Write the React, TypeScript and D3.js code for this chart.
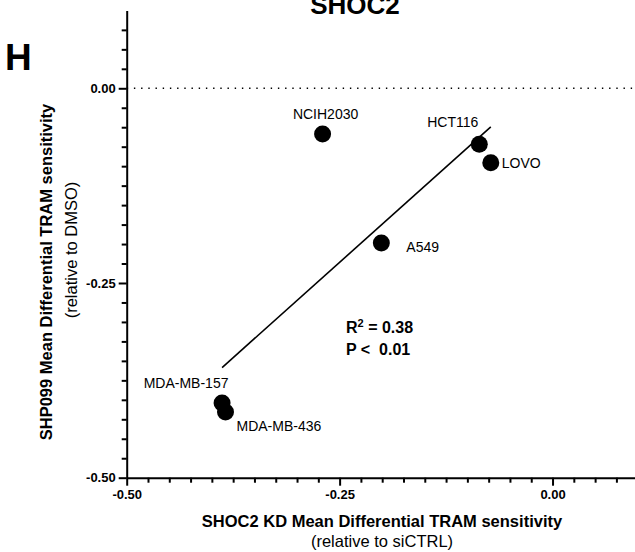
import * as d3 from "d3";
import { useEffect, useRef } from "react";

// SHOC2 knockdown vs SHP099 sensitivity per cell line
const cellLines = ["NCIH2030", "HCT116", "LOVO", "A549", "MDA-MB-157", "MDA-MB-436"];
const shoc2KD = [-0.27, -0.086, -0.0725, -0.201, -0.388, -0.384];
const shp099 = [-0.0587, -0.0719, -0.0955, -0.1986, -0.404, -0.4156];

const majorTicks = [-0.5, -0.25, 0];
const minorTicks = d3.range(-0.475, 0.08, 0.025).filter((t) => Math.abs(t + 0.25) > 1e-6 && Math.abs(t) > 1e-6);

// label placement relative to each point (px)
const labelPos: Record<string, [number, number, string]> = {
    NCIH2030: [3, -15, "middle"],
    HCT116: [-1, -17, "end"],
    LOVO: [11, 5.5, "start"],
    A549: [25, 9, "start"],
    "MDA-MB-157": [-36, -14.5, "middle"],
    "MDA-MB-436": [11, 19.5, "start"],
};

const FONT = "Liberation Sans, Arial, Helvetica, sans-serif";

function App() {
    const svgRef = useRef<SVGSVGElement>(null);

    useEffect(() => {
        const width = 635,
            height = 552;
        const svg = d3.select(svgRef.current).attr("width", width).attr("height", height);
        svg.selectAll("*").remove();

        const x = d3.scaleLinear().domain([-0.5, 0.1]).range([126.7, 637.7]);
        const y = d3.scaleLinear().domain([-0.5, 0.1]).range([477.7, 10.4]);
        const fmt = (d: any) => (+d).toFixed(2);

        // dotted zero line
        svg.append("line")
            .attr("x1", x(-0.5)).attr("x2", x(0.1))
            .attr("y1", y(0)).attr("y2", y(0))
            .attr("stroke", "black")
            .attr("stroke-width", 1.5)
            .attr("stroke-dasharray", "1.4,5.8");

        // y axis
        const gy = svg.append("g").attr("transform", `translate(${x(-0.5)},0)`);
        gy.append("g").call(d3.axisLeft(y).tickValues(minorTicks.concat([0.025, 0.05, 0.075].filter(() => false))).tickSize(5).tickSizeOuter(0).tickFormat(() => ""))
            .call((g) => g.select(".domain").remove());
        gy.append("g").call(d3.axisLeft(y).tickValues(majorTicks).tickSize(8).tickSizeOuter(0).tickPadding(3).tickFormat(fmt));

        // x axis
        const gx = svg.append("g").attr("transform", `translate(0,${y(-0.5)})`);
        gx.append("g").call(d3.axisBottom(x).tickValues(minorTicks).tickSize(5).tickSizeOuter(0).tickFormat(() => ""))
            .call((g) => g.select(".domain").remove());
        gx.append("g").call(d3.axisBottom(x).tickValues(majorTicks).tickSize(8).tickSizeOuter(0).tickPadding(4).tickFormat(fmt));

        svg.selectAll(".domain, .tick line").attr("stroke", "black").attr("stroke-width", 2);
        svg.selectAll(".tick text")
            .attr("fill", "black")
            .style("font-family", FONT)
            .style("font-size", "13px")
            .style("font-weight", "bold");

        // linear regression across the data range
        const mx = d3.mean(shoc2KD) as number;
        const my = d3.mean(shp099) as number;
        const sxy = d3.sum(shoc2KD, (v, i) => (v - mx) * (shp099[i] - my));
        const sxx = d3.sum(shoc2KD, (v) => (v - mx) * (v - mx));
        const slope = sxy / sxx;
        const icpt = my - slope * mx;
        const [xmin, xmax] = d3.extent(shoc2KD) as [number, number];
        svg.append("line")
            .attr("x1", x(xmin)).attr("y1", y(icpt + slope * xmin))
            .attr("x2", x(xmax)).attr("y2", y(icpt + slope * xmax))
            .attr("stroke", "black")
            .attr("stroke-width", 1.6);

        // points
        svg.selectAll("circle.pt")
            .data(cellLines)
            .join("circle")
            .attr("class", "pt")
            .attr("cx", (d, i) => x(shoc2KD[i]))
            .attr("cy", (d, i) => y(shp099[i]))
            .attr("r", 8.5)
            .attr("fill", "black");

        svg.selectAll("text.lbl")
            .data(cellLines)
            .join("text")
            .attr("class", "lbl")
            .attr("x", (d, i) => x(shoc2KD[i]) + labelPos[d][0])
            .attr("y", (d, i) => y(shp099[i]) + labelPos[d][1])
            .attr("text-anchor", (d) => labelPos[d][2])
            .style("font-family", FONT)
            .style("font-size", "14px")
            .text((d) => d);

        // stats
        const r2 = svg.append("text")
            .attr("x", 346).attr("y", 333)
            .style("font-family", FONT).style("font-size", "16px").style("font-weight", "bold");
        r2.append("tspan").text("R");
        r2.append("tspan").attr("dy", -6).style("font-size", "11px").text("2");
        r2.append("tspan").attr("dy", 6).text(" = 0.38");
        svg.append("text")
            .attr("x", 346).attr("y", 355)
            .style("font-family", FONT).style("font-size", "16px").style("font-weight", "bold")
            .attr("xml:space", "preserve")
            .style("white-space", "pre")
            .text("P <  0.01");

        // titles
        svg.append("text")
            .attr("x", 355).attr("y", 13.5)
            .attr("text-anchor", "middle")
            .style("font-family", FONT).style("font-size", "26px").style("font-weight", "bold")
            .text("SHOC2");
        svg.append("text")
            .attr("x", 5).attr("y", 70)
            .style("font-family", FONT).style("font-size", "37px").style("font-weight", "bold")
            .text("H");

        svg.append("text")
            .attr("x", 382).attr("y", 527)
            .attr("text-anchor", "middle")
            .style("font-family", FONT).style("font-size", "16.5px").style("font-weight", "bold")
            .text("SHOC2 KD Mean Differential TRAM sensitivity");
        svg.append("text")
            .attr("x", 382).attr("y", 547)
            .attr("text-anchor", "middle")
            .style("font-family", FONT).style("font-size", "16.5px")
            .text("(relative to siCTRL)");

        svg.append("text")
            .attr("transform", "translate(51.5,272) rotate(-90)")
            .attr("text-anchor", "middle")
            .style("font-family", FONT).style("font-size", "16.5px").style("font-weight", "bold")
            .text("SHP099 Mean Differential TRAM sensitivity");
        svg.append("text")
            .attr("transform", "translate(77,250) rotate(-90)")
            .attr("text-anchor", "middle")
            .style("font-family", FONT).style("font-size", "16.5px")
            .text("(relative to DMSO)");
    }, []);

    return (
        <svg ref={svgRef} style={{ position: "absolute", left: 0, top: 0, background: "white" }}></svg>
    );
}

export default App;
